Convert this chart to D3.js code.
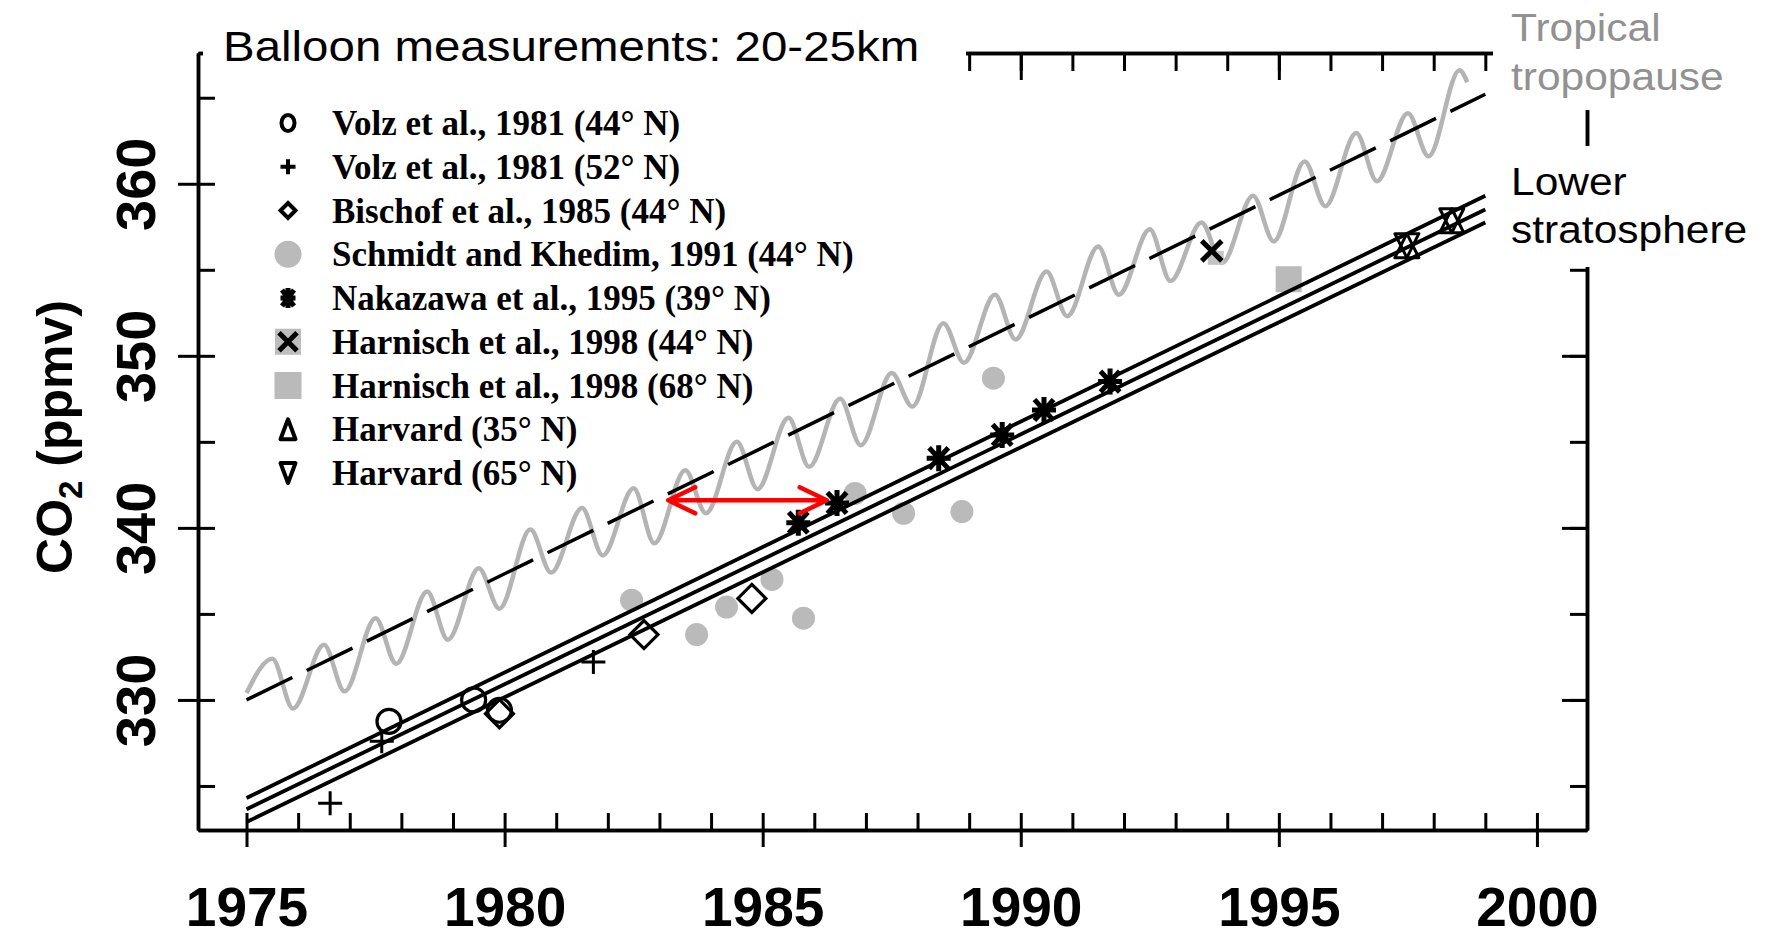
<!DOCTYPE html>
<html>
<head>
<meta charset="utf-8">
<script src="https://cdn.jsdelivr.net/npm/d3@7"></script>
<style>
  body { margin: 0; background: #fff; }
  svg { display: block; }
</style>
</head>
<body>
<div id="chart"></div>
<script>
// ---- ticks and labels ----
const xMajorTicks = [1975, 1980, 1985, 1990, 1995, 2000];
const yMajorTicks = [330, 340, 350, 360];
const yMinorTicks = [325, 330, 335, 340, 345, 350, 355, 360, 365];

const legendLabels = [
  "Volz et al., 1981 (44° N)",
  "Volz et al., 1981 (52° N)",
  "Bischof et al., 1985 (44° N)",
  "Schmidt and Khedim, 1991 (44° N)",
  "Nakazawa et al., 1995 (39° N)",
  "Harnisch et al., 1998 (44° N)",
  "Harnisch et al., 1998 (68° N)",
  "Harvard (35° N)",
  "Harvard (65° N)"
];
const legendSymbols = ["circle", "plus", "diamond", "dot", "asterisk", "cross", "square", "triUp", "triDown"];

// ---- balloon measurements ----
const volz44Years = [1977.76, 1979.4, 1979.9];
const volz44CO2 = [328.75, 330.0, 329.4];
const volz52Years = [1976.62, 1977.62, 1981.72];
const volz52CO2 = [324.0, 327.6, 332.2];
const bischofYears = [1979.9, 1982.7, 1984.79];
const bischofCO2 = [329.2, 333.8, 335.9];
const schmidtYears = [1982.46, 1983.72, 1984.3, 1985.18, 1985.79, 1986.79, 1987.73, 1988.86, 1989.47];
const schmidtCO2 = [335.8, 333.8, 335.4, 337.0, 334.75, 342.0, 340.85, 340.95, 348.7];
const nakazawaYears = [1985.69, 1986.44, 1988.41, 1989.64, 1990.45, 1991.73];
const nakazawaCO2 = [340.3, 341.45, 344.05, 345.4, 346.85, 348.5];
const harnisch44Years = [1993.7];
const harnisch44CO2 = [356.1];
const harnisch68Years = [1995.19];
const harnisch68CO2 = [354.45];
const harvard35Years = [1997.48, 1998.35];
const harvard35CO2 = [356.4, 357.85];
const harvard65Years = [1997.48, 1998.35];
const harvard65CO2 = [356.4, 357.85];

// ---- trend lines ----
const trendYears = [1975, 1999];
const tropoTrendCO2 = [330.0, 365.2];
const stratUpperCO2 = [324.3, 359.3];
const stratMidCO2 = [323.65, 358.5];
const stratLowerCO2 = [322.9, 357.75];

// ---- tropical tropopause seasonal record (peaks and troughs) ----
const cycleYears = [1975.0,
  1975.5, 1975.9, 1976.5, 1976.9, 1977.5, 1977.9, 1978.5, 1978.9, 1979.5, 1979.9,
  1980.5, 1980.9, 1981.5, 1981.9, 1982.5, 1982.9, 1983.5, 1983.9, 1984.5, 1984.9,
  1985.5, 1985.9, 1986.5, 1986.9, 1987.5, 1987.9, 1988.5, 1988.9, 1989.5, 1989.9,
  1990.5, 1990.9, 1991.5, 1991.9, 1992.5, 1992.9, 1993.5, 1993.9, 1994.5, 1994.9,
  1995.5, 1995.9, 1996.5, 1996.9, 1997.5, 1997.9, 1998.5, 1998.65];
const cycleCO2 = [330.4,
  332.4, 329.5, 333.2, 330.5, 334.75, 332.1, 336.3, 333.5, 337.65, 335.3,
  339.9, 337.4, 341.15, 338.4, 342.3, 339.1, 343.35, 340.85, 345.0, 342.25,
  346.4, 343.55, 347.5, 344.8, 349.0, 347.05, 351.9, 349.6, 353.55, 350.95,
  354.9, 352.3, 356.35, 353.55, 357.35, 354.35, 357.75, 355.4, 359.3, 356.65,
  361.3, 358.7, 362.95, 360.15, 364.1, 361.6, 366.6, 365.9];

// red lag arrow
const arrowYears = [1983.17, 1986.24];
const arrowCO2 = 341.6;

const svg = d3.select("#chart").append("svg")
  .attr("width", 1768)
  .attr("height", 939);

const x = d3.scaleLinear().domain([1974.06, 2000.97]).range([198, 1587]);
const y = d3.scaleLinear().domain([322.44, 367.6]).range([830, 53]);
const yearTicks = d3.range(1975, 2001);

function styleAxis(g) {
  g.select(".domain").attr("stroke", "#000").attr("stroke-width", 3.5);
  g.selectAll(".tick line").attr("stroke", "#000").attr("stroke-width", 3);
}

// bottom axis
svg.append("g").attr("transform", "translate(0,830)")
  .call(d3.axisTop(x).tickValues(yearTicks).tickSize(17).tickSizeOuter(0).tickFormat(""))
  .call(styleAxis);
const xAxis = svg.append("g").attr("transform", "translate(0,830)")
  .call(d3.axisBottom(x).tickValues(xMajorTicks).tickSize(17).tickSizeOuter(0).tickFormat(d3.format("d")))
  .call(styleAxis);
xAxis.selectAll("text")
  .attr("y", 96).attr("dy", null)
  .style("font-family", "'Liberation Sans', Arial, sans-serif")
  .style("font-weight", "bold")
  .style("font-size", "55px")
  .attr("fill", "#000");

// left axis
svg.append("g").attr("transform", "translate(198,0)")
  .call(d3.axisRight(y).tickValues(yMinorTicks).tickSize(17).tickSizeOuter(0).tickFormat(""))
  .call(styleAxis);
const yAxis = svg.append("g").attr("transform", "translate(198,0)")
  .call(d3.axisLeft(y).tickValues(yMajorTicks).tickSize(20).tickSizeOuter(0).tickFormat(d3.format("d")))
  .call(styleAxis);
yAxis.selectAll("text")
  .attr("x", null).attr("dy", null)
  .attr("transform", "translate(-43,0) rotate(-90)")
  .attr("text-anchor", "middle")
  .style("font-family", "'Liberation Sans', Arial, sans-serif")
  .style("font-weight", "bold")
  .style("font-size", "56px")
  .attr("fill", "#000");

// right axis
svg.append("g").attr("transform", "translate(1587,0)")
  .call(d3.axisLeft(y).tickValues(yMinorTicks).tickSize(17).tickSizeOuter(0).tickFormat(""))
  .call(styleAxis);
svg.append("g").attr("transform", "translate(1587,0)")
  .call(d3.axisLeft(y).tickValues(yMajorTicks).tickSize(25).tickSizeOuter(0).tickFormat(""))
  .call(styleAxis);

// top axis
svg.append("g").attr("transform", "translate(0,53)")
  .call(d3.axisBottom(x).tickValues(yearTicks).tickSize(18).tickSizeOuter(0).tickFormat(""))
  .call(styleAxis);
svg.append("g").attr("transform", "translate(0,53)")
  .call(d3.axisBottom(x).tickValues(xMajorTicks).tickSize(27).tickSizeOuter(0).tickFormat(""))
  .call(styleAxis);

// y axis title
const yTitle = svg.append("text")
  .attr("transform", "translate(72,437) rotate(-90)")
  .attr("text-anchor", "middle")
  .style("font-family", "'Liberation Sans', Arial, sans-serif")
  .style("font-weight", "bold")
  .style("font-size", "50px")
  .attr("fill", "#000");
yTitle.append("tspan").text("CO");
yTitle.append("tspan").attr("dy", 10).style("font-size", "33px").text("2");
yTitle.append("tspan").attr("dy", -10).text(" (ppmv)");

// ---- lines ----
const line = d3.line().x(d => x(d[0])).y(d => y(d[1]));

svg.append("path")
  .datum(d3.zip(cycleYears, cycleCO2))
  .attr("d", line.curve(d3.curveMonotoneX))
  .attr("fill", "none")
  .attr("stroke", "#b4b4b4")
  .attr("stroke-width", 4.5);
line.curve(d3.curveLinear);

function markerGroup(years, vals) {
  return svg.append("g").selectAll("g")
    .data(d3.zip(years, vals))
    .enter().append("g")
    .attr("transform", d => `translate(${x(d[0])},${y(d[1])})`);
}

function drawSymbol(sel, type, big) {
  if (type === "circle") {
    sel.append("ellipse").attr("rx", big ? 12 : 6.5).attr("ry", big ? 12 : 8)
      .attr("fill", "none").attr("stroke", "#000").attr("stroke-width", big ? 3.2 : 4);
  } else if (type === "plus") {
    const s = big ? 12 : 7.5;
    sel.append("path").attr("d", `M${-s},0H${s}M0,${-s}V${s}`)
      .attr("stroke", "#000").attr("stroke-width", big ? 3 : 4);
  } else if (type === "diamond") {
    const s = big ? 14 : 7.5;
    sel.append("path").attr("d", `M0,${-s}L${s},0L0,${s}L${-s},0Z`)
      .attr("fill", "none").attr("stroke", "#000").attr("stroke-width", big ? 3.2 : 4);
  } else if (type === "dot") {
    sel.append("circle").attr("r", big ? 11.5 : 13.5).attr("fill", "#bababa");
  } else if (type === "asterisk") {
    const sx = big ? 12 : 7.5, sy = big ? 13 : 10;
    sel.append("path")
      .attr("d", `M${-sx},0H${sx}M0,${-sy}V${sy}M${-sx * .8},${-sy * .8}L${sx * .8},${sy * .8}M${-sx * .8},${sy * .8}L${sx * .8},${-sy * .8}`)
      .attr("stroke", "#000").attr("stroke-width", 5);
  } else if (type === "cross") {
    const s = big ? 10 : 9;
    if (big) {
      sel.append("rect").attr("x", -4).attr("y", 0).attr("width", 16).attr("height", 14)
        .attr("fill", "#c4c4c4");
    } else {
      sel.append("rect").attr("x", -13).attr("y", -13).attr("width", 26).attr("height", 26)
        .attr("fill", "#bdbdbd");
    }
    sel.append("path").attr("d", `M${-s},${-s}L${s},${s}M${-s},${s}L${s},${-s}`)
      .attr("stroke", "#000").attr("stroke-width", 5);
  } else if (type === "square") {
    const s = big ? 13 : 13.5;
    sel.append("rect").attr("x", -s).attr("y", -s).attr("width", 2 * s).attr("height", 2 * s)
      .attr("fill", "#bababa");
  } else if (type === "triUp" || type === "triDown") {
    const w = big ? 12 : 7.5, h = big ? 24 : 20;
    const sgn = type === "triUp" ? 1 : -1;
    sel.append("path").attr("d", `M0,${-sgn * h / 2}L${w},${sgn * h / 2}L${-w},${sgn * h / 2}Z`)
      .attr("fill", "none").attr("stroke", "#000").attr("stroke-width", big ? 3 : 4)
      .attr("stroke-linejoin", "round");
  }
}

// gray measurements go under the black lines
drawSymbol(markerGroup(schmidtYears, schmidtCO2), "dot", true);
drawSymbol(markerGroup(harnisch68Years, harnisch68CO2), "square", true);

// dashed tropopause trend
svg.append("path")
  .datum(d3.zip(trendYears, tropoTrendCO2))
  .attr("d", line)
  .attr("fill", "none")
  .attr("stroke", "#000")
  .attr("stroke-width", 3.5)
  .attr("stroke-dasharray", "51,16");

// lower stratosphere fits
[stratUpperCO2, stratMidCO2, stratLowerCO2].forEach(vals => {
  svg.append("path")
    .datum(d3.zip(trendYears, vals))
    .attr("d", line)
    .attr("fill", "none")
    .attr("stroke", "#000")
    .attr("stroke-width", 3.8);
});

drawSymbol(markerGroup(volz44Years, volz44CO2), "circle", true);
drawSymbol(markerGroup(volz52Years, volz52CO2), "plus", true);
drawSymbol(markerGroup(bischofYears, bischofCO2), "diamond", true);
drawSymbol(markerGroup(nakazawaYears, nakazawaCO2), "asterisk", true);
drawSymbol(markerGroup(harnisch44Years, harnisch44CO2), "cross", true);
drawSymbol(markerGroup(harvard35Years, harvard35CO2), "triUp", true);
drawSymbol(markerGroup(harvard65Years, harvard65CO2), "triDown", true);

// red arrow
const ax0 = x(arrowYears[0]), ax1 = x(arrowYears[1]), ay = y(arrowCO2);
svg.append("path")
  .attr("d", `M${ax0},${ay}H${ax1}M${ax0 + 27},${ay - 13}L${ax0},${ay}L${ax0 + 27},${ay + 13}M${ax1 - 27},${ay - 13}L${ax1},${ay}L${ax1 - 27},${ay + 13}`)
  .attr("fill", "none")
  .attr("stroke", "#ff0000")
  .attr("stroke-width", 4.5)
  .attr("stroke-linecap", "round")
  .attr("stroke-linejoin", "round");

// legend
const legend = svg.append("g");
legendLabels.forEach((lab, i) => {
  const cy = 123 + i * 43.75;
  const sym = legend.append("g").attr("transform", `translate(288,${cy})`);
  drawSymbol(sym, legendSymbols[i], false);
  legend.append("text")
    .attr("x", 332)
    .attr("y", cy + 12)
    .style("font-family", "'Liberation Serif', 'Times New Roman', serif")
    .style("font-weight", "bold")
    .style("font-size", "35px")
    .attr("fill", "#000")
    .text(lab);
});

// pasted labels with white backgrounds
svg.append("rect").attr("x", 203).attr("y", 0).attr("width", 763).attr("height", 82).attr("fill", "#fff");
svg.append("text")
  .attr("transform", "translate(223,61) scale(1.13,1)")
  .style("font-family", "'Liberation Sans', Arial, sans-serif")
  .style("font-size", "42px")
  .attr("fill", "#000")
  .text("Balloon measurements: 20-25km");

svg.append("rect").attr("x", 1493).attr("y", 0).attr("width", 275).attr("height", 110).attr("fill", "#fff");
svg.append("rect").attr("x", 1493).attr("y", 146).attr("width", 275).attr("height", 121).attr("fill", "#fff");

const sideLabels = [
  { text: "Tropical", y: 41, color: "#919191" },
  { text: "tropopause", y: 90, color: "#919191" },
  { text: "Lower", y: 195, color: "#000" },
  { text: "stratosphere", y: 243, color: "#000" }
];
sideLabels.forEach(d => {
  svg.append("text")
    .attr("transform", `translate(1511,${d.y}) scale(1.09,1)`)
    .style("font-family", "'Liberation Sans', Arial, sans-serif")
    .style("font-size", "39px")
    .attr("fill", d.color)
    .text(d.text);
});
</script>
</body>
</html>
